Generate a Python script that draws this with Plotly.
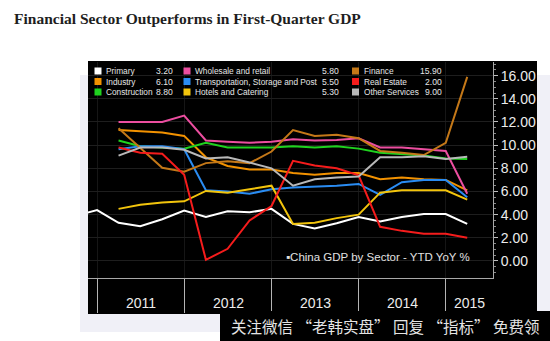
import plotly.graph_objects as go
import pandas as pd

# ---------------- data ----------------
quarters = ["2010-09-30", "2010-12-31",
            "2011-03-31", "2011-06-30", "2011-09-30", "2011-12-31",
            "2012-03-31", "2012-06-30", "2012-09-30", "2012-12-31",
            "2013-03-31", "2013-06-30", "2013-09-30", "2013-12-31",
            "2014-03-31", "2014-06-30", "2014-09-30", "2014-12-31",
            "2015-03-31"]

primary = [3.9, 4.4, 3.3, 3.0, 3.6, 4.35, 3.8, 4.3, 4.2, 4.5, 3.2, 2.8, 3.25, 3.8, 3.4, 3.8, 4.05, 4.05, 3.2]
industry = [None, None, 11.3, 11.2, 11.1, 10.8, 8.95, 8.2, 7.9, 7.9, 7.6, 7.45, 7.6, 7.6, 7.05, 7.2, 7.05, 7.0, 6.1]
construction = [None, None, 10.4, 9.9, 9.8, 9.7, 10.2, 9.8, 9.8, 9.8, 9.9, 9.8, 9.9, 9.7, 9.35, 9.25, 9.1, 8.85, 8.8]
wholesale = [None, None, 12.0, 12.0, 12.0, 12.55, 10.4, 10.3, 10.2, 10.3, 10.5, 10.4, 10.45, 10.6, 9.8, 9.8, 9.65, 9.5, 5.8]
transport = [None, None, 9.65, 9.9, 9.9, 9.65, 6.1, 6.0, 5.8, 6.2, 6.35, 6.4, 6.5, 6.65, 5.7, 6.8, 7.0, 7.0, 5.5]
hotels = [None, None, 4.5, 4.85, 5.05, 5.15, 6.05, 5.9, 6.2, 6.5, 3.2, 3.3, 3.7, 4.0, 5.9, 6.1, 6.1, 6.1, 5.3]
finance = [None, None, 11.45, 9.8, 8.05, 7.7, 8.45, 8.6, 8.45, 9.45, 11.3, 10.8, 10.9, 10.6, 9.5, 9.35, 9.15, 10.2, 15.9]
real_estate = [None, None, 9.8, 9.35, 9.25, 7.45, 0.1, 1.05, 3.5, 4.75, 8.65, 8.25, 8.0, 7.4, 2.95, 2.6, 2.35, 2.35, 2.0]
other_services = [None, None, 9.1, 9.8, 9.8, 9.6, 8.85, 8.95, 8.5, 8.0, 6.5, 7.05, 7.2, 7.3, 8.95, 8.95, 9.05, 8.8, 9.0]

sector_names = ["Primary", "Industry", "Construction",
                "Wholesale and retail", "Transportation, Storage and Post", "Hotels and Catering",
                "Finance", "Real Estate", "Other Services"]
sector_values = [primary, industry, construction, wholesale, transport, hotels,
                 finance, real_estate, other_services]
sector_colors = ["#ffffff", "#f39200", "#1fd21f",
                 "#ec4ea0", "#2a8cf2", "#f2c40c",
                 "#c47818", "#f51c1c", "#b9b9b9"]

year_labels = ["2011", "2012", "2013", "2014", "2015"]
y_ticks = [0, 2, 4, 6, 8, 10, 12, 14, 16]
x_range = ["2010-11-23", "2015-07-17"]
y_range = [-1.47, 17.18]

title = "Financial Sector Outperforms in First-Quarter GDP"
note = "▪China GDP by Sector - YTD YoY %"
watermark = "关注微信 “老韩实盘” 回复 “指标” 免费领"

# ---------------- layout helpers ----------------
W, H = 550, 341
L, R, T, B = 88, 57, 62, 63
PW, PH = W - L - R, H - T - B


def px(x):
    return (x - L) / PW


def py(y):
    return (H - B - y) / PH


fig = go.Figure()
for name, vals, col in zip(sector_names, sector_values, sector_colors):
    fig.add_trace(go.Scatter(x=quarters, y=vals, mode="lines", name=name,
                             line=dict(color=col, width=2), showlegend=False))

shapes = []
# light patterned surround
shapes.append(dict(type="rect", xref="paper", yref="paper", layer="below",
                   x0=px(80), x1=px(550), y0=py(332), y1=py(75),
                   fillcolor="#f0f0f7", line=dict(width=0)))
# black terminal panel
shapes.append(dict(type="rect", xref="paper", yref="paper", layer="below",
                   x0=px(88), x1=px(537), y0=py(314), y1=py(61),
                   fillcolor="#000000", line=dict(width=0)))

annotations = []
# legend (3 columns x 3 rows)
col_sw = [94.5, 183.5, 352]
col_txt = [104, 192.5, 361.5]
col_val = [174.5, 341, 443.5]
row_y = [71, 81.5, 92]
for k, (name, vals, col) in enumerate(zip(sector_names, sector_values, sector_colors)):
    c, r = k // 3, k % 3
    yc = row_y[r]
    shapes.append(dict(type="rect", xref="paper", yref="paper", layer="above",
                       x0=px(col_sw[c]), x1=px(col_sw[c] + 7),
                       y0=py(yc + 3.5), y1=py(yc - 3.5),
                       fillcolor=col, line=dict(width=0)))
    annotations.append(dict(xref="paper", yref="paper", x=px(col_txt[c]), y=py(yc),
                            xanchor="left", yanchor="middle", text=name, showarrow=False,
                            font=dict(family="Liberation Sans", size=8.3, color="#e6e6e6")))
    annotations.append(dict(xref="paper", yref="paper", x=px(col_val[c]), y=py(yc),
                            xanchor="right", yanchor="middle", text=f"{vals[-1]:.2f}",
                            showarrow=False,
                            font=dict(family="Liberation Sans", size=8.6, color="#e6e6e6")))

# year labels centred in each year band
x_end = pd.Timestamp(x_range[1])
for yl in year_labels:
    start = pd.Timestamp(f"{yl}-01-01")
    end = min(pd.Timestamp(f"{int(yl) + 1}-01-01"), x_end)
    mid = start + (end - start) / 2
    annotations.append(dict(xref="x", yref="paper", x=mid.strftime("%Y-%m-%d"), y=py(303),
                            xanchor="center", yanchor="middle", text=yl, showarrow=False,
                            font=dict(family="Liberation Sans", size=14, color="#ececec")))

annotations.append(dict(xref="paper", yref="paper", x=px(284), y=py(257),
                        xanchor="left", yanchor="middle", text=note, showarrow=False,
                        font=dict(family="Liberation Sans", size=11.5, color="#e0e0e0")))

annotations.append(dict(xref="paper", yref="paper", x=px(12), y=py(19),
                        xanchor="left", yanchor="middle", text=f"<b>{title}</b>", showarrow=False,
                        font=dict(family="Liberation Serif", size=15.5, color="#1e1e1e")))

# watermark
shapes.append(dict(type="rect", xref="paper", yref="paper", layer="above",
                   x0=px(220), x1=px(551), y0=py(342), y1=py(311),
                   fillcolor="#000000", line=dict(width=0)))
annotations.append(dict(xref="paper", yref="paper", x=px(229), y=py(326),
                        xanchor="left", yanchor="middle", text=watermark, showarrow=False,
                        font=dict(family="Noto Sans CJK SC", size=15.5, color="#e4e4e4")))

year_starts = [f"{yl}-01-01" for yl in year_labels]

fig.update_layout(
    width=W, height=H,
    margin=dict(l=L, r=R, t=T, b=B, pad=0),
    paper_bgcolor="#ffffff", plot_bgcolor="#000000",
    shapes=shapes, annotations=annotations,
    xaxis=dict(type="date", range=x_range, tickvals=year_starts, ticktext=[""] * len(year_starts),
               showgrid=True, gridcolor="#161616", gridwidth=1,
               ticks="outside", ticklen=34, tickcolor="#b4b4b4", tickwidth=1,
               showline=True, linecolor="#a8a8a8", linewidth=1, zeroline=False,
               fixedrange=True),
    yaxis=dict(range=y_range, side="right", tickvals=y_ticks,
               ticktext=[f"{v:.2f}" for v in y_ticks],
               showgrid=True, gridcolor="#1e1e1e", gridwidth=1, zeroline=False,
               ticks="outside", ticklen=4, tickcolor="#bdbdbd", tickwidth=1,
               minor=dict(dtick=0.5, ticks="outside", ticklen=2, tickcolor="#8a8a8a", showgrid=False),
               showline=True, linecolor="#a8a8a8", linewidth=1,
               tickfont=dict(family="Liberation Sans", size=14, color="#ececec"),
               fixedrange=True),
)

fig.write_html("out.html")
